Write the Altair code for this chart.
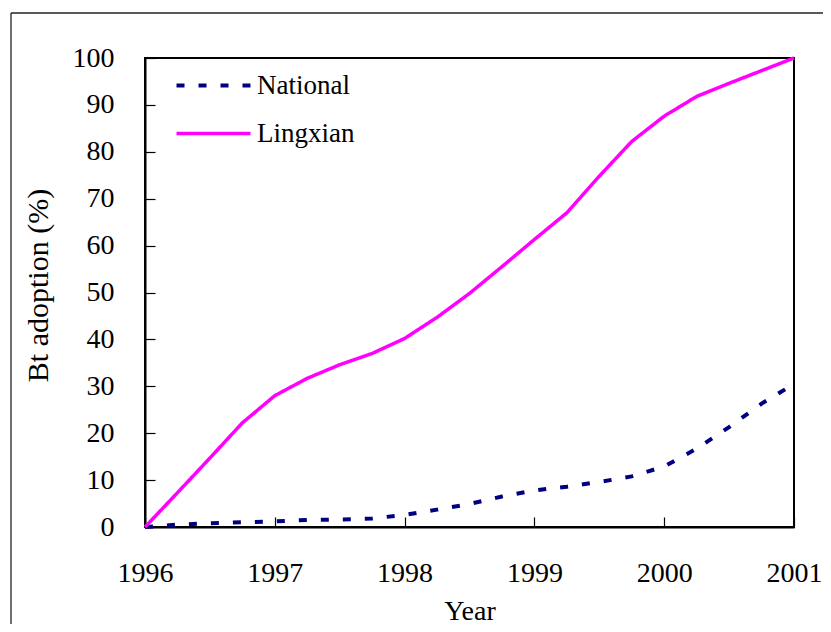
import altair as alt
import pandas as pd

# ---- data ----
years = [1996.0, 1996.25, 1996.5, 1996.75, 1997.0, 1997.25, 1997.5, 1997.75,
         1998.0, 1998.25, 1998.5, 1998.75, 1999.0, 1999.25, 1999.5, 1999.75,
         2000.0, 2000.25, 2000.5, 2000.75, 2001.0]
national = [0.0, 0.5, 0.8, 1.0, 1.2, 1.5, 1.6, 1.8,
            2.6, 3.7, 4.9, 6.5, 7.8, 8.6, 9.6, 10.8,
            12.9, 16.7, 21.3, 26.3, 30.5]
lingxian = [0.0, 7.3, 14.7, 22.2, 28.0, 31.7, 34.6, 37.0,
            40.2, 44.7, 49.8, 55.5, 61.3, 67.0, 74.8, 82.2,
            87.6, 91.8, 94.6, 97.3, 100.0]
series_order = ["National", "Lingxian"]
series_colors = ["#000080", "#FF00FF"]
year_ticks = [1996, 1997, 1998, 1999, 2000, 2001]
pct_ticks = [0, 10, 20, 30, 40, 50, 60, 70, 80, 90, 100]

df = pd.DataFrame({
    "Year": years + years,
    "value": national + lingxian,
    "series": ["National"] * len(years) + ["Lingxian"] * len(years),
})

W, H = 649, 469
PAD_L, PAD_T, PAD_R, PAD_B = 137, 50, 29, 97
FONT = "Liberation Serif"
INWARD = alt.ExprRef("-10")   # ticks drawn inside the plot

x_scale = alt.Scale(domain=[1996, 2001], nice=False, zero=False)
y_scale = alt.Scale(domain=[0, 100], nice=False)

legend = alt.Legend(
    title=None, orient="none", legendX=55, legendY=14,
    symbolType="M-4,0H4", symbolSize=342, symbolStrokeWidth=4,
    labelFont=FONT, labelFontSize=27, labelColor="black",
    labelOffset=30, rowPadding=20, padding=0, symbolOffset=0,
)

lines = alt.Chart(df).mark_line(strokeCap="butt").encode(
    x=alt.X("Year:Q", scale=x_scale,
            axis=alt.Axis(values=year_ticks, format="d", title="Year",
                          ticks=True, tickSize=INWARD, tickColor="black", tickWidth=1.2,
                          labelPadding=42, labelFlush=False,
                          titleX=W / 2, titleY=92, titleBaseline="alphabetic",
                          titleFontSize=28)),
    y=alt.Y("value:Q", scale=y_scale,
            axis=alt.Axis(values=pct_ticks, title="Bt adoption (%)",
                          ticks=True, tickSize=INWARD, tickColor="black", tickWidth=1.2,
                          labelPadding=41,
                          titleX=-98, titleY=227, titleBaseline="alphabetic",
                          titleAlign="center", titleFontSize=30)),
    color=alt.Color("series:N", scale=alt.Scale(domain=series_order, range=series_colors),
                    legend=legend),
    strokeDash=alt.StrokeDash("series:N",
                              scale=alt.Scale(domain=series_order, range=[[8, 14], [1, 0]]),
                              legend=legend),
    strokeWidth=alt.StrokeWidth("series:N",
                                scale=alt.Scale(domain=series_order, range=[4, 3.5]),
                                legend=None),
    order=alt.Order("Year:Q"),
)

frame_df = pd.DataFrame({"k": [0]})
frame_top = alt.Chart(frame_df).mark_rule(color="#222222", strokeWidth=1.3).encode(
    x=alt.value(-134), x2=alt.value(W + PAD_R), y=alt.value(-45))
frame_left = alt.Chart(frame_df).mark_rule(color="#222222", strokeWidth=1.3).encode(
    x=alt.value(-134), y=alt.value(-45), y2=alt.value(H + PAD_B))

chart = alt.layer(frame_top, frame_left, lines).properties(
    width=W, height=H,
    autosize=alt.AutoSizeParams(type="none"),
    padding={"left": PAD_L, "top": PAD_T, "right": PAD_R, "bottom": PAD_B},
    background="white",
).configure_view(
    stroke="black", strokeWidth=2
).configure_axis(
    grid=False,
    domainColor="black", domainWidth=2,
    labelFont=FONT, labelFontSize=28, labelColor="black",
    titleFont=FONT, titleColor="black", titleFontWeight="normal",
)

chart.save("out.html", embed_options={"renderer": "svg", "actions": False})
